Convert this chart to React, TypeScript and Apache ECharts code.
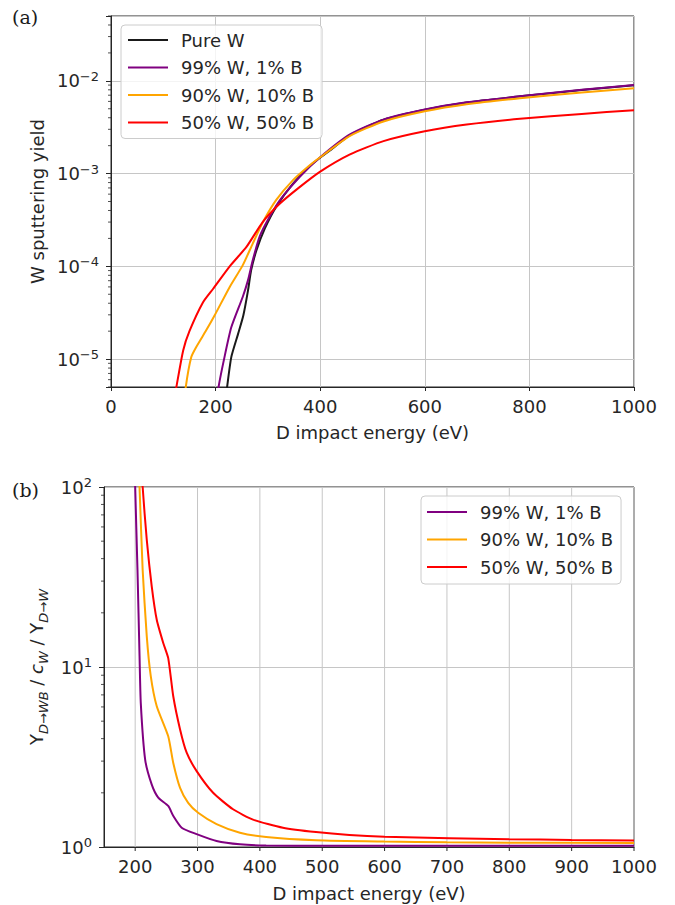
import React, { useEffect, useRef } from "react";
import * as echarts from "echarts";

// ---------- data ----------
const seriesNames = ["Pure W", "99% W, 1% B", "90% W, 10% B", "50% W, 50% B"];
const seriesColors = ["#1a1a1a", "#800080", "#ffa500", "#ff0000"];

// Panel (a): W sputtering yield vs D impact energy (eV)
const topPureW: [number, number][] = [
  [218, 3.2e-6], [222, 5e-6], [230, 1.05e-5], [243, 1.87e-5], [253, 2.95e-5], [262, 5.5e-5],
  [268, 9.1e-5], [278, 1.48e-4], [294, 2.55e-4], [316, 4.4e-4], [348, 7.8e-4], [386, 1.29e-3],
  [420, 1.8e-3], [457, 2.6e-3], [521, 3.8e-3], [600, 4.88e-3], [680, 5.84e-3], [782, 6.8e-3],
  [900, 7.95e-3], [1000, 8.95e-3],
];
const topW99: [number, number][] = [
  [202, 3e-6], [205.7, 5e-6], [217, 1.05e-5], [230, 2.2e-5], [252, 4.7e-5], [262, 7.1e-5],
  [271, 1.16e-4], [284, 2.08e-4], [303, 3.4e-4], [325.5, 5.4e-4], [360.5, 9.2e-4], [400, 1.5e-3],
  [457, 2.64e-3], [521, 3.82e-3], [600, 4.9e-3], [680, 5.86e-3], [782, 6.8e-3], [900, 8.0e-3],
  [1000, 9.0e-3],
];
const topW90: [number, number][] = [
  [140, 3e-6], [143, 5e-6], [153.5, 1.05e-5], [163, 1.35e-5], [182, 2.04e-5], [198, 2.95e-5],
  [227, 6.0e-5], [252, 1.03e-4], [271, 1.76e-4], [290.5, 3.0e-4], [316, 5.2e-4], [348, 8.5e-4],
  [380, 1.23e-3], [400, 1.5e-3], [457, 2.55e-3], [521, 3.65e-3], [600, 4.7e-3], [680, 5.6e-3],
  [782, 6.5e-3], [900, 7.5e-3], [1000, 8.3e-3],
];
const topW50: [number, number][] = [
  [118, 3e-6], [125, 5e-6], [138, 1.24e-5], [150, 2.0e-5], [176, 4.1e-5], [195, 5.7e-5],
  [227, 1.0e-4], [259, 1.62e-4], [290, 3.0e-4], [322, 4.7e-4], [360, 7.1e-4], [400, 1.05e-3],
  [457, 1.61e-3], [521, 2.24e-3], [600, 2.86e-3], [680, 3.38e-3], [782, 3.9e-3], [900, 4.4e-3],
  [1000, 4.83e-3],
];

// Panel (b): Y_{D->WB} / c_W / Y_{D->W}
const botW99: [number, number][] = [
  [199, 150], [200, 100], [203.7, 34.6], [207, 11.5], [209, 6.3], [216, 3.06], [226.6, 2.22],
  [237, 1.88], [253, 1.69], [261, 1.49], [274.6, 1.28], [298.6, 1.18], [330.5, 1.08], [368, 1.035],
  [410, 1.02], [500, 1.015], [700, 1.015], [1000, 1.015],
];
const botW90: [number, number][] = [
  [205, 150], [207, 100], [212, 34.6], [218.6, 14.8], [225, 8.9], [234.6, 6.05], [253, 4.12],
  [261, 2.94], [272, 2.13], [285, 1.76], [301, 1.55], [330.5, 1.34], [368, 1.2], [410, 1.136],
  [490, 1.09], [600, 1.072], [700, 1.062], [800, 1.057], [1000, 1.052],
];
const botW50: [number, number][] = [
  [210, 150], [212, 100], [218.6, 50.8], [226.6, 28], [234.6, 18.3], [245, 13.6], [253, 11.2],
  [261, 6.9], [272, 4.5], [282.6, 3.34], [298.6, 2.64], [325, 2.0], [357, 1.62], [389, 1.42],
  [437, 1.28], [490, 1.21], [543.6, 1.166], [600, 1.14], [704, 1.12], [800, 1.105], [900, 1.095],
  [1000, 1.088],
];

// axis ranges, tick values
const topXRange = [0, 1000];
const topYRange = [5e-6, 5e-2];
const botXRange = [150, 1000];
const botYRange = [1, 100];
const botXTicks = [200, 300, 400, 500, 600, 700, 800, 900, 1000];
const topMinorTicks = [
  5e-6, 6e-6, 7e-6, 8e-6, 9e-6,
  2e-5, 3e-5, 4e-5, 5e-5, 6e-5, 7e-5, 8e-5, 9e-5,
  2e-4, 3e-4, 4e-4, 5e-4, 6e-4, 7e-4, 8e-4, 9e-4,
  2e-3, 3e-3, 4e-3, 5e-3, 6e-3, 7e-3, 8e-3, 9e-3,
  2e-2, 3e-2, 4e-2, 5e-2,
];
const botMinorTicks = [2, 3, 4, 5, 6, 7, 8, 9, 20, 30, 40, 50, 60, 70, 80, 90];

// ---------- styling ----------
const FONT = "DejaVu Sans";
const FS = 18;
const TXT = "#262626";
const GRIDC = "#c6c6c6";

function logLabel(value: number): string {
  const l = Math.log10(value);
  const n = Math.round(l);
  if (Math.abs(l - n) > 1e-6) return "";
  const s = n < 0 ? "\u2212" + -n : String(n);
  return `{b|10}{s|${s}}`;
}

const supRich = {
  b: { fontSize: FS, fontFamily: FONT, color: TXT, lineHeight: 22 },
  s: { fontSize: 13, fontFamily: FONT, color: TXT, lineHeight: 13, verticalAlign: "top" },
};

function lineSeries(name: string, color: string, data: [number, number][], idx: number) {
  return {
    type: "line",
    name,
    xAxisIndex: idx,
    yAxisIndex: idx,
    data,
    symbol: "none",
    showSymbol: false,
    smooth: 0.2,
    clip: true,
    lineStyle: { color, width: 2 },
    itemStyle: { color },
    z: 3,
  };
}

function minorTickSeries(values: number[], xMin: number, idx: number) {
  return {
    type: "custom",
    xAxisIndex: idx,
    yAxisIndex: idx,
    clip: false,
    silent: true,
    z: 5,
    data: values.map((v) => [xMin, v]),
    encode: { x: 0, y: 1 },
    renderItem: (_p: any, api: any) => {
      const pt = api.coord([api.value(0), api.value(1)]);
      return {
        type: "line",
        shape: { x1: pt[0] - 3, y1: pt[1], x2: pt[0], y2: pt[1] },
        style: { stroke: TXT, lineWidth: 0.8 },
      };
    },
  };
}

// vertical grid lines + outward ticks at chosen x values (panel b)
function xGridSeries(values: number[], yRange: number[], idx: number) {
  return {
    type: "custom",
    xAxisIndex: idx,
    yAxisIndex: idx,
    clip: false,
    silent: true,
    z: 1,
    data: values.map((v) => [v, yRange[0]]),
    encode: { x: 0, y: 1 },
    renderItem: (_p: any, api: any) => {
      const x = api.value(0);
      const pb = api.coord([x, yRange[0]]);
      const pt = api.coord([x, yRange[1]]);
      return {
        type: "group",
        children: [
          {
            type: "line",
            shape: { x1: pb[0], y1: pb[1], x2: pt[0], y2: pt[1] },
            style: { stroke: GRIDC, lineWidth: 1 },
          },
          {
            type: "line",
            shape: { x1: pb[0], y1: pb[1], x2: pb[0], y2: pb[1] + 4 },
            style: { stroke: TXT, lineWidth: 1 },
          },
        ],
      };
    },
  };
}

function xAxisCfg(idx: number, range: number[], interval: number, labelStep: number, own: boolean, nameGap: number) {
  return {
    type: "value",
    gridIndex: idx,
    min: range[0],
    max: range[1],
    interval,
    name: "D impact energy (eV)",
    nameLocation: "middle",
    nameGap,
    nameTextStyle: { fontFamily: FONT, fontSize: FS, color: TXT },
    axisLine: { show: true, lineStyle: { color: TXT, width: 1 } },
    axisTick: { show: own, inside: false, length: 4, lineStyle: { color: TXT, width: 1 } },
    axisLabel: {
      fontFamily: FONT,
      fontSize: FS,
      color: TXT,
      margin: 10,
      showMinLabel: range[0] % labelStep === 0,
      formatter: (v: number) => (v % labelStep === 0 ? String(v) : ""),
    },
    splitLine: { show: own, lineStyle: { color: GRIDC, width: 1 } },
  };
}

function yAxisCfg(idx: number, range: number[], name: string, nameGap: number, rich?: any) {
  return {
    type: "log",
    logBase: 10,
    gridIndex: idx,
    min: range[0],
    max: range[1],
    name,
    nameLocation: "middle",
    nameGap,
    nameRotate: 90,
    nameTextStyle: { fontFamily: FONT, fontSize: FS, color: TXT, rich },
    axisLine: { show: true, lineStyle: { color: TXT, width: 1 } },
    axisTick: { show: true, inside: false, length: 5, lineStyle: { color: TXT, width: 1 } },
    minorTick: { show: false },
    axisLabel: { margin: 12, formatter: logLabel, rich: supRich },
    splitLine: { show: true, lineStyle: { color: GRIDC, width: 1 } },
  };
}

function legendCfg(left: number, top: number, names: string[], padding: number[]) {
  return {
    orient: "vertical",
    left,
    top,
    data: names,
    icon: "rect",
    itemWidth: 40,
    itemHeight: 2.2,
    itemGap: 9.5,
    padding,
    backgroundColor: "rgba(255,255,255,0.8)",
    borderColor: "#cccccc",
    borderWidth: 1,
    borderRadius: 4,
    selectedMode: false,
    textStyle: { fontFamily: FONT, fontSize: FS, color: TXT, lineHeight: 18, padding: [0, 0, 0, 8] },
  };
}

export default function App() {
  const ref = useRef<HTMLDivElement>(null);

  useEffect(() => {
    if (!ref.current) return;
    const chart = echarts.init(ref.current, undefined, { renderer: "svg" });

    const subN = { fontFamily: FONT, fontSize: FS, color: TXT, lineHeight: 26 };
    const subS = {
      fontFamily: FONT,
      fontSize: 13,
      color: TXT,
      fontStyle: "italic",
      lineHeight: 13,
      verticalAlign: "bottom",
    };
    const subI = { fontFamily: FONT, fontSize: FS, color: TXT, fontStyle: "italic", lineHeight: 26 };

    const option: any = {
      animation: false,
      backgroundColor: "#ffffff",
      textStyle: { fontFamily: FONT },
      grid: [
        { left: 111, top: 16, width: 523, height: 371, show: true, borderColor: TXT, borderWidth: 1, backgroundColor: "transparent" },
        { left: 104, top: 487, width: 530, height: 360, show: true, borderColor: TXT, borderWidth: 1, backgroundColor: "transparent" },
      ],
      xAxis: [
        xAxisCfg(0, topXRange, 200, 200, true, 36),
        xAxisCfg(1, botXRange, 50, 100, false, 37),
      ],
      yAxis: [
        yAxisCfg(0, topYRange, "W sputtering yield", 62),
        yAxisCfg(
          1,
          botYRange,
          "{n|Y}{s|D\u2192WB}{n| / }{i|c}{s|W}{n| / Y}{s|D\u2192W}",
          52,
          { n: subN, s: subS, i: subI }
        ),
      ],
      legend: [
        legendCfg(121, 25, seriesNames, [6, 8, 7, 7]),
        legendCfg(421, 496, seriesNames.slice(1), [7, 8, 8, 6]),
      ],
      graphic: [
        { type: "text", left: 12, top: 7, style: { text: "(a)", fontFamily: "DejaVu Serif", fontSize: 19, fill: "#1a1a1a" } },
        { type: "text", left: 12, top: 480, style: { text: "(b)", fontFamily: "DejaVu Serif", fontSize: 19, fill: "#1a1a1a" } },
      ],
      series: [
        xGridSeries(botXTicks, botYRange, 1),
        lineSeries(seriesNames[0], seriesColors[0], topPureW, 0),
        lineSeries(seriesNames[1], seriesColors[1], topW99, 0),
        lineSeries(seriesNames[2], seriesColors[2], topW90, 0),
        lineSeries(seriesNames[3], seriesColors[3], topW50, 0),
        lineSeries(seriesNames[1], seriesColors[1], botW99, 1),
        lineSeries(seriesNames[2], seriesColors[2], botW90, 1),
        lineSeries(seriesNames[3], seriesColors[3], botW50, 1),
        minorTickSeries(topMinorTicks, topXRange[0], 0),
        minorTickSeries(botMinorTicks, botXRange[0], 1),
      ],
    };
    chart.setOption(option);
    return () => chart.dispose();
  }, []);

  return (
    <div
      ref={ref}
      style={{ position: "absolute", left: 0, top: 0, width: 675, height: 905, background: "#fff" }}
    />
  );
}
